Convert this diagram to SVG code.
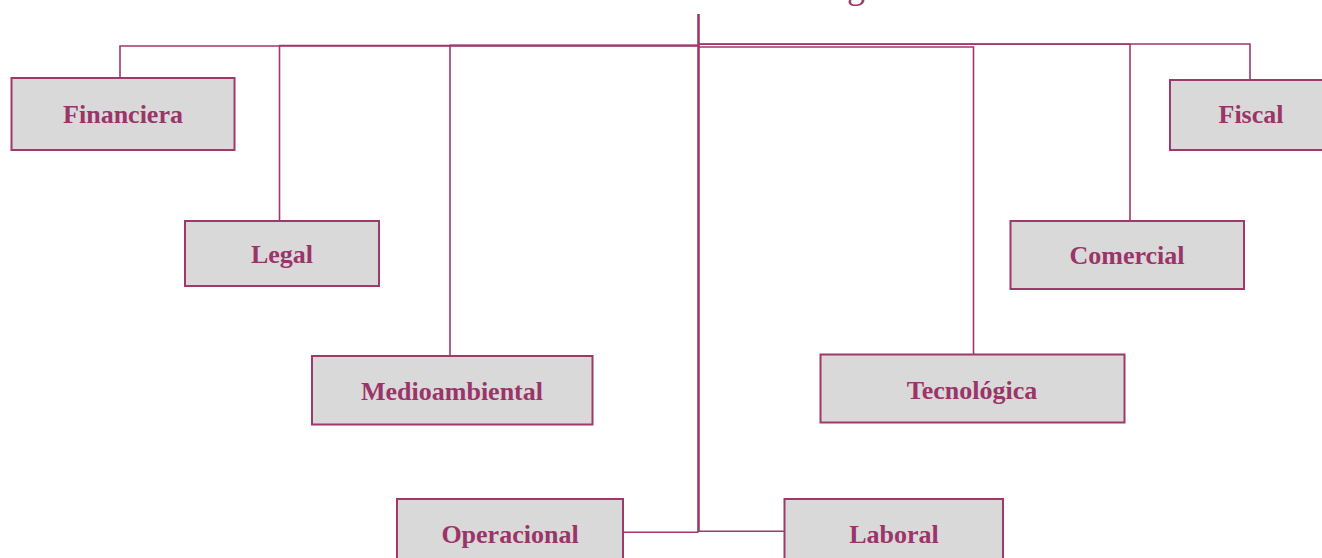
<svg xmlns="http://www.w3.org/2000/svg" width="1322" height="558" viewBox="0 0 1322 558">
<style>
.box{fill:#d9d9d9;stroke:#a0386b;stroke-width:2}
.lbl{font-family:"Liberation Serif","DejaVu Serif",serif;font-weight:bold;font-size:26px;fill:#9b3468;text-anchor:middle}
.con{fill:none;stroke:#a0386b;stroke-width:1.6}
</style>
<rect width="1322" height="558" fill="#ffffff"/>
<text x="856" y="-2" font-family="'Liberation Serif',serif" font-size="36" fill="#a0386b" text-anchor="middle">g</text>
<g id="connectors">
<path class="con" d="M698.5 46 H120 V78"/>
<path class="con" d="M698.5 45.5 H279.5 V221"/>
<path class="con" d="M698.5 45.3 H450 V356"/>
<path class="con" d="M698.5 44 H1250 V80"/>
<path class="con" d="M698.5 44.3 H1130 V221"/>
<path class="con" d="M698.5 47 H973.5 V354"/>
<path class="con" d="M698.5 14 V532" style="stroke-width:2.6"/>
<path class="con" d="M698.5 532.3 H623"/>
<path class="con" d="M698.5 531.3 H784"/>
</g>
<g id="financiera"><rect class="box" x="11.5" y="78" width="223" height="72"/><text class="lbl" x="123" y="122.5">Financiera</text></g>
<g id="legal"><rect class="box" x="185" y="221" width="194" height="65"/><text class="lbl" x="282" y="263">Legal</text></g>
<g id="medioambiental"><rect class="box" x="312" y="356" width="280.5" height="68.5"/><text class="lbl" x="452" y="400">Medioambiental</text></g>
<g id="operacional"><rect class="box" x="397" y="499" width="226" height="70"/><text class="lbl" x="510" y="543">Operacional</text></g>
<g id="laboral"><rect class="box" x="784.5" y="499" width="218.5" height="70"/><text class="lbl" x="894" y="543">Laboral</text></g>
<g id="tecnologica"><rect class="box" x="820.5" y="354.5" width="304" height="68"/><text class="lbl" x="972" y="399">Tecnológica</text></g>
<g id="comercial"><rect class="box" x="1010.5" y="221" width="233.5" height="68"/><text class="lbl" x="1127" y="264">Comercial</text></g>
<g id="fiscal"><rect class="box" x="1170" y="80" width="162" height="70"/><text class="lbl" x="1251" y="123">Fiscal</text></g>
</svg>
